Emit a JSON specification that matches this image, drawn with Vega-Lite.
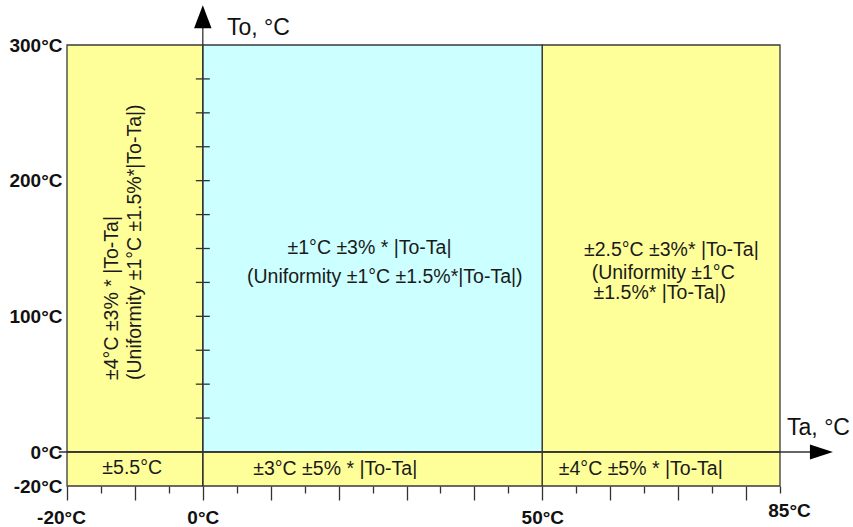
{
  "$schema": "https://vega.github.io/schema/vega-lite/v6.json",
  "width": 713,
  "height": 441,
  "autosize": "none",
  "padding": {"left": 67, "top": 45, "right": 73, "bottom": 41},
  "background": "white",
  "config": {"view": {"stroke": null}, "font": "Liberation Sans"},
  "datasets": {
    "zones": [
      {"ta_from": -20, "ta_to": 0, "to_from": 0, "to_to": 300, "zone": "extended"},
      {"ta_from": 0, "ta_to": 50, "to_from": 0, "to_to": 300, "zone": "standard"},
      {"ta_from": 50, "ta_to": 85, "to_from": 0, "to_to": 300, "zone": "extended"},
      {"ta_from": -20, "ta_to": 0, "to_from": -20, "to_to": 0, "zone": "extended"},
      {"ta_from": 0, "ta_to": 50, "to_from": -20, "to_to": 0, "zone": "extended"},
      {"ta_from": 50, "ta_to": 85, "to_from": -20, "to_to": 0, "zone": "extended"}
    ],
    "labels": [
      {"text": "±1°C ±3% * |To-Ta|", "ta": 24.55, "to": 150.4},
      {"text": "(Uniformity ±1°C ±1.5%*|To-Ta|)", "ta": 26.8, "to": 129.0},
      {"text": "±2.5°C ±3%* |To-Ta|", "ta": 69.0, "to": 148.9},
      {"text": "(Uniformity ±1°C", "ta": 67.8, "to": 131.9},
      {"text": "±1.5%* |To-Ta|)", "ta": 67.3, "to": 117.2},
      {"text": "±5.5°C", "ta": -10.4, "to": -9.4},
      {"text": "±3°C ±5% * |To-Ta|", "ta": 19.5, "to": -10},
      {"text": "±4°C ±5% * |To-Ta|", "ta": 64.5, "to": -10}
    ],
    "vlabels": [
      {"text": "±4°C ±3% *  |To-Ta|", "ta": -13.4, "to": 53.1},
      {"text": "(Uniformity ±1°C ±1.5%*|To-Ta|)", "ta": -10.0, "to": 53.1}
    ],
    "titles": [
      {"text": "To, °C", "ta": 3.56, "to": 307.4},
      {"text": "Ta, °C", "ta": 86.04, "to": 12.5}
    ],
    "toticks": [
      {"to": 25}, {"to": 50}, {"to": 75}, {"to": 100}, {"to": 125}, {"to": 150},
      {"to": 175}, {"to": 200}, {"to": 225}, {"to": 250}, {"to": 275}
    ],
    "arrows": [
      {"axis": "To", "ta": 0, "to": 320.9},
      {"axis": "Ta", "ta": 91.1, "to": 0}
    ]
  },
  "layer": [
    {
      "data": {"name": "zones"},
      "mark": {"type": "rect", "stroke": "#3a3a3a", "strokeWidth": 1.3},
      "encoding": {
        "x": {
          "field": "ta_from", "type": "quantitative",
          "scale": {"domain": [-20, 85], "nice": false, "zero": false},
          "axis": {
            "title": null, "domain": false, "grid": false,
            "values": [-20, -15, -10, -5, 0, 5, 10, 15, 20, 25, 30, 35, 40, 45, 50, 55, 60, 65, 70, 75, 80, 85],
            "tickCount": 100,
            "tickColor": "#333333", "tickWidth": 1.3,
            "tickSize": {"condition": {"test": "datum.value % 10 === 0", "value": 14}, "value": 7},
            "labelExpr": "indexof([-20, 0, 50, 85], datum.value) >= 0 ? datum.value + '°C' : ''",
            "labelOffset": {"condition": [{"test": "datum.value < -10", "value": -6}, {"test": "datum.value > 80", "value": 9}], "value": 0},
            "labelFont": "Liberation Sans", "labelFontWeight": "bold", "labelFontSize": 19,
            "labelColor": "#111111", "labelPadding": 8, "labelOverlap": false, "labelFlush": false
          }
        },
        "x2": {"field": "ta_to"},
        "y": {
          "field": "to_from", "type": "quantitative",
          "scale": {"domain": [-20, 0, 300], "range": [441, 407, 0], "nice": false, "zero": false},
          "axis": {
            "title": null, "domain": false, "grid": false, "ticks": false,
            "values": [-20, 0, 100, 200, 300],
            "tickCount": 100,
            "labelExpr": "datum.value + '°C'",
            "labelFont": "Liberation Sans", "labelFontWeight": "bold", "labelFontSize": 19,
            "labelColor": "#111111", "labelPadding": 5, "labelOverlap": false, "labelFlush": false
          }
        },
        "y2": {"field": "to_to"},
        "color": {
          "field": "zone", "type": "nominal",
          "scale": {"domain": ["extended", "standard"], "range": ["#FFFF99", "#CCFFFF"]},
          "legend": null
        }
      }
    },
    {
      "data": {"values": [{}]},
      "mark": {"type": "rule", "color": "#333333", "strokeWidth": 1.3},
      "encoding": {
        "x": {"datum": 0, "type": "quantitative"},
        "y": {"datum": -20, "type": "quantitative"},
        "y2": {"datum": 312.5}
      }
    },
    {
      "data": {"values": [{}]},
      "mark": {"type": "rule", "color": "#333333", "strokeWidth": 1.3},
      "encoding": {
        "x": {"datum": -21.2, "type": "quantitative"},
        "x2": {"datum": 89.7},
        "y": {"datum": 0, "type": "quantitative"}
      }
    },
    {
      "data": {"name": "toticks"},
      "mark": {"type": "tick", "orient": "horizontal", "size": 14, "thickness": 1.3, "color": "#333333", "opacity": 1},
      "encoding": {
        "x": {"datum": 0, "type": "quantitative"},
        "y": {"field": "to", "type": "quantitative"}
      }
    },
    {
      "data": {"name": "arrows"},
      "mark": {"type": "point", "filled": true, "size": 529, "color": "#000000", "opacity": 1, "strokeWidth": 0},
      "encoding": {
        "x": {"field": "ta", "type": "quantitative"},
        "y": {"field": "to", "type": "quantitative"},
        "shape": {
          "field": "axis", "type": "nominal",
          "scale": {"domain": ["To", "Ta"], "range": ["M0,-1L0.76,1L-0.76,1Z", "M1,0L-1,-0.65L-1,0.65Z"]},
          "legend": null
        }
      }
    },
    {
      "data": {"name": "labels"},
      "mark": {"type": "text", "font": "Liberation Sans", "fontSize": 19.5, "color": "#1a1a1a", "align": "center", "baseline": "middle"},
      "encoding": {
        "x": {"field": "ta", "type": "quantitative"},
        "y": {"field": "to", "type": "quantitative"},
        "text": {"field": "text"}
      }
    },
    {
      "data": {"name": "vlabels"},
      "mark": {"type": "text", "font": "Liberation Sans", "fontSize": 19.5, "color": "#1a1a1a", "align": "left", "baseline": "middle", "angle": 270},
      "encoding": {
        "x": {"field": "ta", "type": "quantitative"},
        "y": {"field": "to", "type": "quantitative"},
        "text": {"field": "text"}
      }
    },
    {
      "data": {"name": "titles"},
      "mark": {"type": "text", "font": "Liberation Sans", "fontSize": 23, "color": "#111111", "align": "left", "baseline": "alphabetic"},
      "encoding": {
        "x": {"field": "ta", "type": "quantitative"},
        "y": {"field": "to", "type": "quantitative"},
        "text": {"field": "text"}
      }
    }
  ]
}
